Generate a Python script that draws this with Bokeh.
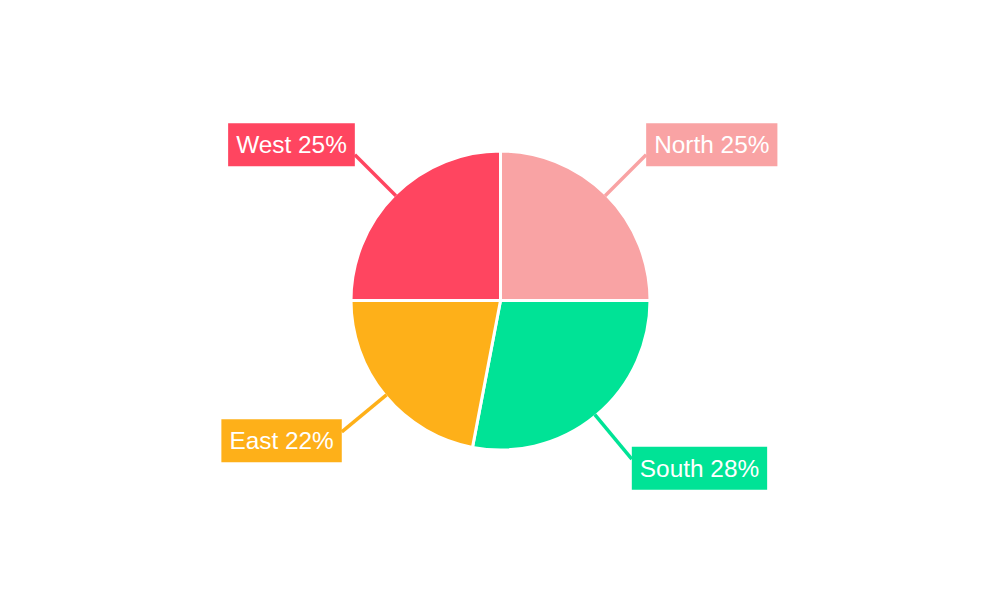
import math
import numpy as np
from bokeh.plotting import figure
from bokeh.models import Range1d, ColumnDataSource
from bokeh.core.properties import value
from bokeh.embed import file_html
from bokeh.resources import INLINE

regions = ["North", "South", "East", "West"]
shares = [25, 28, 22, 25]
colors = ["#F9A3A4", "#00E396", "#FEB019", "#FF4560"]

W, H = 984, 584
p = figure(width=W, height=H, output_backend="svg", toolbar_location=None,
           x_range=Range1d(-500, 484), y_range=Range1d(-284, 300),
           min_border=0, outline_line_color=None)
p.axis.visible = False
p.grid.visible = False
p.background_fill_color = "white"
p.border_fill_color = "white"

vals = np.array(shares, dtype=float)
frac = vals / vals.sum()
cum_end = np.cumsum(frac)
cum_start = cum_end - frac
start = math.pi / 2 - 2 * math.pi * cum_end
end = math.pi / 2 - 2 * math.pi * cum_start
mid = (start + end) / 2

R = 149.5
src = ColumnDataSource(dict(start=start, end=end, color=colors))
p.wedge(x=0, y=0, radius=R, start_angle="start", end_angle="end",
        fill_color="color", line_color="white", line_width=3, source=src)

r0, r1 = 148, 206
x0 = r0 * np.cos(mid); y0 = r0 * np.sin(mid)
x1 = r1 * np.cos(mid); y1 = r1 * np.sin(mid)
p.segment(x0=x0, y0=y0, x1=x1, y1=y1, line_color=colors, line_width=3.5)

labels = [f"{r} {s}%" for r, s in zip(regions, shares)]
for i, lab in enumerate(labels):
    right = x1[i] > 0
    top = y1[i] > 0
    ty = y1[i] + (10 if top else -9)
    p.text(x=[x1[i]], y=[ty], text=[lab],
           text_align="left" if right else "right", text_baseline="middle",
           text_font=value("Liberation Sans"), text_font_size="24.4px",
           text_color="white", background_fill_color=colors[i],
           padding=8)

open("out.html", "w").write(file_html(p, INLINE))
